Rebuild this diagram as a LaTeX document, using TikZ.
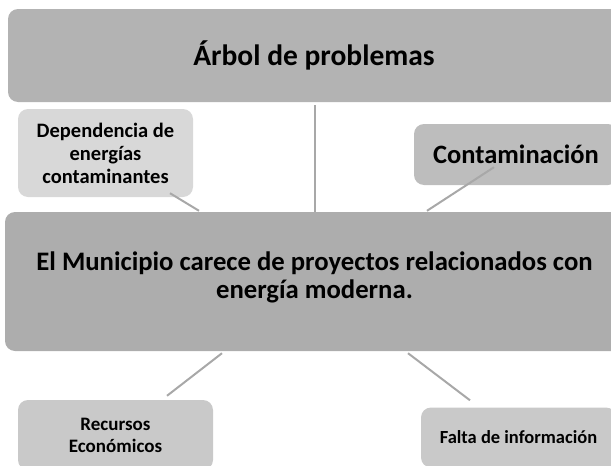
\documentclass[tikz,border=0pt]{standalone}
\usepackage{fontspec}
\setmainfont{Carlito}
\usetikzlibrary{positioning,calc}
\definecolor{topgray}{HTML}{B3B3B3}
\definecolor{depgray}{HTML}{D8D8D8}
\definecolor{contgray}{HTML}{BDBDBD}
\definecolor{maingray}{HTML}{ADADAD}
\definecolor{leafgray}{HTML}{C9C9C9}
\definecolor{linegray}{HTML}{A8A8A8}
\tikzset{
  box/.style={rounded corners=10pt,align=center,font=\bfseries,inner sep=0pt},
  lnk/.style={draw=linegray,line width=2pt},
}
\begin{document}
\begin{tikzpicture}[x=1pt,y=-1pt]
\clip (0,0) rectangle (611,466);
% boxes
\node[box,fill=topgray,minimum width=612,minimum height=93,font=\bfseries\fontsize{29.5}{34}\selectfont] (arbol) at (314,55.5) {Árbol de problemas};
\node[box,fill=depgray,minimum width=175,minimum height=88,font=\bfseries\fontsize{20.5}{23}\selectfont] (dep) at (105.5,153) {Dependencia de\\energías\\contaminantes};
\node[box,fill=contgray,minimum width=204,minimum height=61,font=\bfseries\fontsize{26.5}{30}\selectfont] (cont) at (516,154.5) {Contaminación};
\node[box,fill=maingray,minimum width=619,minimum height=139] (main) at (314.5,281.5) {};
\node[font=\bfseries\fontsize{26.7}{28.5}\selectfont,align=center,inner sep=0pt] (maintxt) at ([yshift=4]main.center) {El Municipio carece de proyectos relacionados con\\energía moderna.};
\node[box,fill=leafgray,minimum width=195,minimum height=70,font=\bfseries\fontsize{19}{22}\selectfont] (rec) at (115.5,435) {Recursos\\Económicos};
\node[box,fill=leafgray,minimum width=195,minimum height=60,font=\bfseries\fontsize{18.5}{22}\selectfont] (falta) at (518.5,437.5) {Falta de información};
% connectors
\draw[lnk] ([shift={(0.5,3)}]arbol.south) -- (main.north);
\draw[lnk] ([shift={(64.5,-4)}]dep.south) -- ([shift={(-115.5,-1)}]main.north);
\draw[lnk] ([shift={(-22,-18)}]cont.south) -- ([shift={(112.5,-1)}]main.north);
\draw[lnk] ([shift={(-92.5,2)}]main.south) -- ([shift={(51.5,-4)}]rec.north);
\draw[lnk] ([shift={(93.5,2)}]main.south) -- ([shift={(-48.5,-7)}]falta.north);
\end{tikzpicture}
\end{document}
